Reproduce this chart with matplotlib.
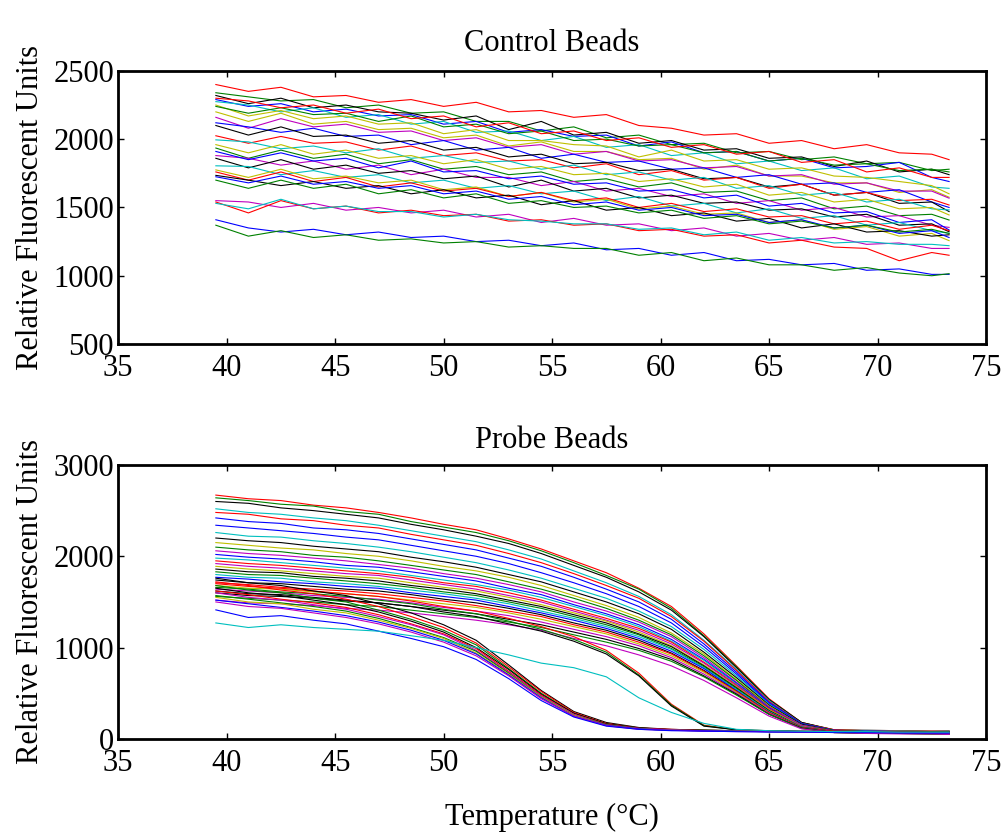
import matplotlib
matplotlib.use("Agg")
import matplotlib.pyplot as plt

# temperature grid (deg C) the traces were read at
temps = [39.5, 41, 42.5, 44, 45.5, 47, 48.5, 50, 51.5, 53, 54.5, 56,
         57.5, 59, 60.5, 62, 63.5, 65, 66.5, 68, 69.5, 71, 72.5, 73.3]

# control beads: one trace per bead
control_rfu = [
    [2400, 2350, 2380, 2310, 2320, 2270, 2290, 2240, 2270, 2200, 2210, 2160, 2180, 2100, 2080, 2030, 2040, 1970, 1990, 1930, 1960, 1900, 1890, 1850],
    [2340, 2310, 2280, 2290, 2230, 2250, 2190, 2200, 2130, 2130, 2060, 2090, 2010, 2030, 1960, 1970, 1900, 1910, 1850, 1870, 1820, 1830, 1770, 1780],
    [2320, 2260, 2300, 2230, 2250, 2200, 2190, 2140, 2170, 2070, 2130, 2030, 2050, 1970, 1990, 1920, 1930, 1860, 1870, 1800, 1840, 1760, 1780, 1740],
    [2290, 2240, 2260, 2200, 2220, 2170, 2180, 2110, 2130, 2050, 2070, 2020, 2030, 1950, 1980, 1900, 1910, 1840, 1860, 1790, 1800, 1830, 1720, 1690],
    [2275, 2250, 2200, 2230, 2160, 2180, 2110, 2130, 2050, 2060, 1990, 2020, 1940, 1960, 1880, 1900, 1820, 1840, 1770, 1790, 1710, 1730, 1650, 1640],
    [2250, 2170, 2210, 2150, 2170, 2110, 2120, 2040, 2070, 1990, 1990, 1960, 1950, 1870, 1920, 1840, 1850, 1780, 1790, 1730, 1720, 1690, 1660, 1600],
    [2240, 2190, 2230, 2180, 2190, 2130, 2170, 2090, 2110, 2040, 2060, 1990, 2000, 1950, 1960, 1900, 1910, 1840, 1860, 1810, 1820, 1770, 1780, 1760],
    [2300, 2280, 2230, 2250, 2190, 2220, 2150, 2170, 2090, 2120, 2040, 2060, 1990, 2010, 1940, 1960, 1890, 1910, 1830, 1850, 1760, 1790, 1720, 1720],
    [2200, 2130, 2190, 2110, 2130, 2070, 2080, 2010, 2030, 1950, 1980, 1910, 1910, 1850, 1860, 1780, 1810, 1730, 1730, 1680, 1680, 1610, 1630, 1575],
    [2160, 2080, 2150, 2090, 2110, 2050, 2060, 1990, 2010, 1940, 1960, 1890, 1910, 1840, 1850, 1790, 1800, 1730, 1740, 1670, 1680, 1620, 1620, 1568],
    [2120, 2090, 2050, 2080, 2020, 2030, 1960, 1990, 1920, 1940, 1860, 1890, 1830, 1840, 1780, 1790, 1720, 1740, 1670, 1680, 1610, 1630, 1540, 1500],
    [2100, 2030, 2090, 2020, 2030, 1970, 1990, 1920, 1940, 1870, 1890, 1820, 1830, 1770, 1780, 1710, 1720, 1650, 1670, 1590, 1610, 1530, 1540, 1470],
    [2025, 1970, 2020, 1970, 1980, 1920, 1950, 1880, 1900, 1840, 1850, 1790, 1820, 1740, 1770, 1700, 1720, 1640, 1670, 1590, 1610, 1550, 1560, 1518],
    [1995, 1980, 1930, 1950, 1900, 1930, 1860, 1880, 1830, 1840, 1780, 1810, 1740, 1760, 1700, 1720, 1640, 1660, 1590, 1610, 1540, 1560, 1490, 1482],
    [1960, 1900, 1960, 1890, 1920, 1860, 1880, 1820, 1850, 1780, 1800, 1740, 1750, 1690, 1710, 1650, 1670, 1590, 1610, 1540, 1560, 1490, 1500, 1445],
    [1935, 1860, 1920, 1860, 1890, 1820, 1850, 1780, 1800, 1740, 1760, 1690, 1710, 1650, 1680, 1610, 1620, 1550, 1570, 1490, 1510, 1440, 1450, 1408],
    [1880, 1860, 1810, 1840, 1780, 1810, 1740, 1780, 1720, 1720, 1660, 1690, 1620, 1640, 1580, 1600, 1530, 1550, 1480, 1500, 1430, 1440, 1370, 1354],
    [1910, 1850, 1900, 1840, 1860, 1790, 1840, 1760, 1770, 1710, 1730, 1670, 1680, 1620, 1630, 1570, 1590, 1510, 1530, 1460, 1470, 1390, 1410, 1335],
    [1860, 1790, 1850, 1780, 1810, 1750, 1770, 1710, 1730, 1650, 1700, 1620, 1640, 1570, 1590, 1530, 1540, 1480, 1490, 1430, 1450, 1370, 1380, 1322],
    [1805, 1800, 1740, 1770, 1720, 1740, 1680, 1700, 1640, 1660, 1600, 1620, 1550, 1580, 1510, 1530, 1460, 1490, 1420, 1440, 1370, 1390, 1330, 1310],
    [1775, 1720, 1780, 1710, 1730, 1680, 1700, 1630, 1650, 1580, 1610, 1540, 1560, 1490, 1510, 1450, 1460, 1390, 1410, 1340, 1360, 1290, 1310, 1257],
    [1760, 1700, 1760, 1690, 1720, 1650, 1680, 1620, 1640, 1580, 1610, 1550, 1570, 1500, 1530, 1470, 1490, 1430, 1440, 1380, 1400, 1340, 1370, 1330],
    [1735, 1700, 1660, 1690, 1640, 1660, 1600, 1630, 1570, 1590, 1520, 1550, 1480, 1500, 1440, 1460, 1400, 1420, 1350, 1380, 1320, 1330, 1290, 1300],
    [1725, 1680, 1730, 1670, 1690, 1640, 1660, 1600, 1620, 1560, 1580, 1520, 1540, 1480, 1500, 1440, 1450, 1390, 1410, 1350, 1370, 1310, 1330, 1280],
    [1700, 1640, 1700, 1640, 1670, 1600, 1630, 1570, 1600, 1530, 1550, 1500, 1510, 1460, 1480, 1420, 1440, 1380, 1400, 1350, 1370, 1320, 1340, 1310],
    [1550, 1540, 1500, 1530, 1480, 1500, 1460, 1480, 1430, 1450, 1390, 1420, 1370, 1380, 1330, 1350, 1290, 1310, 1260, 1280, 1230, 1240, 1200, 1200],
    [1540, 1460, 1550, 1490, 1510, 1460, 1480, 1440, 1450, 1400, 1410, 1370, 1380, 1330, 1340, 1290, 1300, 1240, 1260, 1210, 1200, 1110, 1170, 1150],
    [1530, 1490, 1560, 1490, 1510, 1470, 1470, 1430, 1450, 1410, 1400, 1380, 1380, 1340, 1350, 1300, 1320, 1260, 1280, 1240, 1250, 1230, 1230, 1220],
    [1410, 1350, 1320, 1340, 1300, 1320, 1280, 1290, 1250, 1260, 1220, 1240, 1190, 1200, 1150, 1170, 1110, 1120, 1080, 1090, 1040, 1050, 1010, 1010],
    [1370, 1290, 1330, 1280, 1300, 1260, 1270, 1240, 1250, 1210, 1220, 1200, 1200, 1150, 1170, 1110, 1130, 1080, 1080, 1040, 1060, 1020, 1000, 1015],
]
control_colors = ["r", "g", "k", "b", "c", "y", "g", "r", "y", "m", "b", "k", "r", "c", "y",
                  "g", "m", "b", "k", "c", "y", "r", "k", "b", "g", "m", "r", "c", "b", "g"]

# probe beads, late melting (Tm around 63 C)
probe_late = [
    [2670, 2630, 2610, 2560, 2530, 2480, 2420, 2350, 2290, 2190, 2080, 1950, 1820, 1650, 1450, 1150, 800, 440, 180, 100, 95, 90, 85, 85],
    [2640, 2610, 2570, 2550, 2490, 2460, 2380, 2320, 2260, 2170, 2060, 1930, 1790, 1640, 1430, 1130, 790, 430, 180, 100, 90, 90, 80, 80],
    [2600, 2580, 2530, 2500, 2460, 2420, 2350, 2290, 2220, 2140, 2030, 1900, 1770, 1610, 1410, 1120, 780, 430, 180, 95, 85, 85, 80, 80],
    [2520, 2480, 2460, 2420, 2390, 2340, 2280, 2220, 2160, 2070, 1970, 1840, 1710, 1560, 1360, 1080, 760, 420, 170, 95, 95, 90, 85, 90],
    [2480, 2460, 2410, 2390, 2340, 2310, 2240, 2180, 2120, 2030, 1930, 1810, 1680, 1540, 1340, 1070, 750, 410, 170, 100, 90, 85, 85, 85],
    [2420, 2380, 2360, 2310, 2290, 2250, 2190, 2130, 2070, 1980, 1890, 1770, 1640, 1500, 1310, 1040, 730, 400, 170, 95, 85, 80, 80, 80],
    [2340, 2310, 2280, 2250, 2210, 2180, 2120, 2060, 2000, 1920, 1820, 1710, 1590, 1450, 1270, 1010, 710, 390, 160, 90, 85, 80, 80, 75],
    [2260, 2220, 2210, 2170, 2140, 2100, 2050, 1990, 1930, 1850, 1760, 1650, 1540, 1400, 1230, 980, 690, 380, 160, 90, 85, 80, 75, 75],
    [2200, 2170, 2150, 2110, 2080, 2050, 1990, 1940, 1880, 1800, 1720, 1610, 1500, 1370, 1200, 950, 670, 370, 160, 90, 80, 80, 75, 75],
    [2150, 2120, 2090, 2070, 2030, 2000, 1950, 1890, 1840, 1770, 1680, 1570, 1460, 1330, 1160, 930, 650, 360, 150, 85, 80, 75, 75, 70],
    [2100, 2070, 2050, 2010, 1990, 1950, 1900, 1850, 1800, 1720, 1640, 1540, 1430, 1300, 1140, 910, 640, 350, 150, 90, 80, 80, 70, 70],
    [2060, 2030, 2010, 1980, 1950, 1910, 1870, 1810, 1760, 1690, 1610, 1500, 1400, 1280, 1120, 890, 620, 350, 150, 85, 80, 75, 70, 70],
    [2020, 1990, 1970, 1940, 1900, 1880, 1830, 1780, 1730, 1650, 1580, 1470, 1370, 1250, 1090, 870, 610, 340, 140, 85, 75, 75, 70, 70],
    [1980, 1960, 1930, 1900, 1870, 1840, 1790, 1740, 1690, 1630, 1550, 1450, 1350, 1230, 1070, 860, 600, 330, 140, 80, 75, 70, 70, 65],
    [1950, 1920, 1900, 1870, 1840, 1810, 1770, 1710, 1670, 1600, 1520, 1420, 1320, 1210, 1060, 840, 590, 330, 140, 85, 80, 75, 70, 70],
    [1920, 1890, 1870, 1840, 1810, 1790, 1740, 1690, 1640, 1570, 1500, 1400, 1300, 1190, 1040, 830, 580, 320, 140, 80, 75, 70, 65, 65],
    [1890, 1860, 1840, 1810, 1780, 1760, 1710, 1660, 1620, 1550, 1470, 1380, 1290, 1170, 1020, 810, 570, 320, 135, 80, 70, 70, 65, 65],
    [1860, 1830, 1820, 1780, 1760, 1730, 1680, 1640, 1590, 1520, 1450, 1360, 1270, 1150, 1010, 800, 560, 310, 130, 80, 75, 70, 65, 60],
    [1830, 1800, 1790, 1760, 1730, 1700, 1660, 1610, 1570, 1500, 1430, 1340, 1250, 1140, 990, 790, 550, 300, 130, 80, 70, 65, 60, 60],
    [1800, 1770, 1760, 1720, 1700, 1670, 1630, 1590, 1540, 1480, 1400, 1320, 1230, 1120, 980, 780, 540, 300, 130, 75, 70, 65, 60, 60],
    [1770, 1750, 1720, 1700, 1670, 1650, 1600, 1560, 1520, 1450, 1380, 1300, 1210, 1100, 960, 770, 530, 290, 125, 75, 70, 65, 60, 60],
    [1740, 1710, 1700, 1670, 1640, 1620, 1580, 1530, 1490, 1430, 1360, 1270, 1190, 1080, 940, 750, 520, 290, 125, 75, 65, 60, 60, 55],
    [1710, 1690, 1660, 1640, 1620, 1590, 1550, 1510, 1460, 1400, 1340, 1250, 1170, 1060, 930, 740, 520, 290, 125, 80, 70, 65, 60, 60],
    [1680, 1650, 1640, 1610, 1590, 1560, 1520, 1480, 1440, 1380, 1310, 1230, 1150, 1040, 910, 730, 510, 280, 120, 70, 65, 60, 55, 55],
    [1640, 1620, 1600, 1570, 1550, 1530, 1490, 1440, 1400, 1350, 1280, 1200, 1120, 1020, 890, 710, 500, 280, 120, 75, 65, 60, 60, 55],
    [1600, 1570, 1560, 1540, 1510, 1490, 1450, 1410, 1370, 1310, 1250, 1170, 1090, 990, 870, 690, 490, 270, 120, 70, 65, 60, 55, 55],
    [1560, 1540, 1520, 1500, 1470, 1450, 1410, 1370, 1330, 1280, 1220, 1140, 1060, 970, 850, 680, 480, 270, 115, 70, 60, 60, 55, 55],
    [1520, 1490, 1480, 1460, 1430, 1410, 1380, 1340, 1300, 1250, 1190, 1100, 1020, 920, 800, 640, 450, 250, 110, 70, 60, 55, 55, 50],
]
late_colors = ["r", "g", "k", "c", "r", "b", "b", "c", "k", "y", "g", "m", "b", "c",
               "r", "m", "y", "k", "g", "c", "b", "k", "r", "y", "m", "k", "g", "m"]

# probe beads, intermediate melting (Tm around 59.5 C)
probe_mid = [
    [1700, 1670, 1650, 1620, 1590, 1560, 1510, 1450, 1400, 1320, 1230, 1120, 970, 720, 380, 150, 100, 90, 85, 80, 80, 75, 75, 75],
    [1660, 1640, 1610, 1590, 1560, 1520, 1480, 1420, 1370, 1290, 1200, 1090, 950, 700, 370, 145, 100, 90, 80, 80, 75, 75, 70, 70],
    [1620, 1590, 1580, 1550, 1520, 1490, 1450, 1390, 1340, 1260, 1180, 1070, 930, 690, 360, 140, 100, 85, 80, 75, 75, 70, 70, 70],
]
mid_colors = ["r", "g", "k"]

# probe beads, early melting (Tm around 53 C)
probe_early = [
    [1760, 1710, 1680, 1620, 1570, 1480, 1380, 1250, 1080, 810, 530, 300, 180, 125, 105, 95, 90, 85, 85, 80, 80, 80, 75, 75],
    [1720, 1680, 1630, 1590, 1530, 1450, 1340, 1220, 1050, 790, 520, 290, 170, 120, 105, 95, 90, 85, 80, 80, 80, 75, 75, 75],
    [1680, 1630, 1600, 1540, 1500, 1410, 1310, 1190, 1030, 770, 500, 280, 165, 120, 100, 95, 90, 85, 80, 80, 75, 75, 75, 75],
    [1650, 1600, 1570, 1520, 1470, 1390, 1290, 1170, 1000, 760, 490, 280, 165, 120, 100, 95, 90, 85, 80, 80, 75, 75, 70, 70],
    [1620, 1580, 1530, 1490, 1440, 1360, 1260, 1150, 990, 740, 480, 270, 160, 115, 100, 90, 90, 85, 80, 75, 75, 75, 70, 70],
    [1600, 1550, 1520, 1470, 1420, 1340, 1250, 1140, 970, 730, 470, 270, 155, 115, 100, 90, 85, 80, 80, 75, 75, 70, 70, 70],
    [1570, 1530, 1490, 1450, 1400, 1320, 1220, 1110, 960, 720, 460, 260, 155, 110, 95, 90, 85, 80, 80, 75, 75, 70, 70, 70],
    [1550, 1500, 1480, 1420, 1380, 1300, 1210, 1100, 940, 710, 460, 260, 150, 110, 95, 90, 85, 80, 75, 75, 70, 70, 70, 65],
    [1520, 1480, 1440, 1400, 1350, 1280, 1190, 1080, 930, 700, 450, 250, 150, 110, 95, 90, 85, 80, 75, 75, 70, 70, 65, 65],
    [1500, 1450, 1430, 1380, 1330, 1260, 1170, 1060, 910, 690, 440, 250, 145, 105, 95, 85, 80, 80, 75, 70, 70, 70, 65, 65],
    [1413, 1330, 1350, 1300, 1260, 1180, 1100, 1010, 870, 660, 420, 240, 140, 105, 90, 85, 80, 75, 75, 70, 70, 65, 65, 65],
]
early_colors = ["k", "r", "g", "k", "r", "m", "g", "y", "b", "m", "b"]

# the one odd bead with a broad transition
probe_broad = [1270, 1220, 1250, 1220, 1200, 1180, 1130, 1080, 1000, 920, 830, 780, 680, 450, 290, 170, 105, 90, 85, 80, 80, 75, 75, 75]

palette = {"b": (0, 0, 1), "g": (0, 0.5, 0), "r": (1, 0, 0), "c": (0, 0.75, 0.75),
           "m": (0.75, 0, 0.75), "y": (0.75, 0.75, 0), "k": (0, 0, 0)}

plt.rcParams["font.family"] = ["Liberation Serif", "DejaVu Serif"]
plt.rcParams["font.size"] = 22

fig = plt.figure(figsize=(10.02, 8.34), dpi=100)
ax1 = fig.add_axes([0.118, 0.5875, 0.866, 0.3275])
ax2 = fig.add_axes([0.118, 0.114, 0.866, 0.3285])

for vals, c in zip(control_rfu, control_colors):
    ax1.plot(temps, vals, color=palette[c], lw=0.8)

for group, cols in [(probe_late, late_colors), (probe_mid, mid_colors), (probe_early, early_colors)]:
    for vals, c in zip(group, cols):
        ax2.plot(temps, vals, color=palette[c], lw=0.8)
ax2.plot(temps, probe_broad, color=palette["c"], lw=0.8)

ax1.set_ylim(500, 2500)
ax1.set_yticks([500, 1000, 1500, 2000, 2500])
ax2.set_ylim(0, 3000)
ax2.set_yticks([0, 1000, 2000, 3000])

for ax in (ax1, ax2):
    ax.set_xlim(35, 75)
    ax.set_xticks(range(35, 80, 5))
    ax.tick_params(direction="in", top=True, right=True, length=4.5, width=1,
                   labelsize=22, pad=3)
    ax.tick_params(axis="x", pad=7)
    for sp in ax.spines.values():
        sp.set_linewidth(2)
    ax.set_ylabel("Relative Fluorescent Units", fontsize=22, labelpad=6)

ax1.set_title("Control Beads", fontsize=22, pad=14)
ax2.set_title("Probe Beads", fontsize=22, pad=12)
ax2.set_xlabel("Temperature (\u00b0C)", fontsize=22, labelpad=18)

fig.savefig("out.png", dpi=100)
